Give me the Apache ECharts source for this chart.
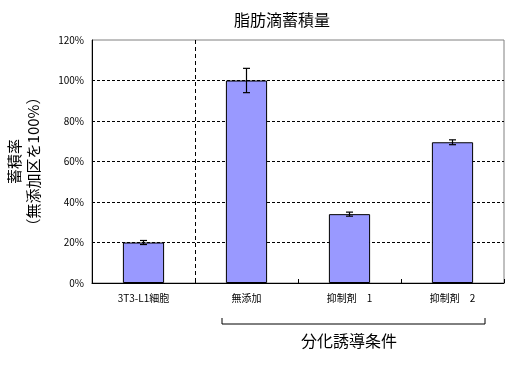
<!DOCTYPE html>
<html><head><meta charset="utf-8">
<script src="https://cdn.jsdelivr.net/npm/echarts@6/dist/echarts.min.js"></script>
<style>html,body{margin:0;padding:0;background:#fff}#c{width:518px;height:365px}</style>
</head><body><div id="c"></div>
<script>
const categories = ['3T3-L1細胞', '無添加', '抑制剤　1', '抑制剤　2'];
const values = [20, 100, 34, 69.5];
const errors = [1, 6, 1, 1.2];
const yTicks = [0, 20, 40, 60, 80, 100, 120];
const titleText = '脂肪滴蓄積量';
const yName = '蓄積率\n（無添加区を100%）';
const groupLabel = '分化誘導条件';

const FONT = '"Noto Sans CJK JP", sans-serif';
const chart = echarts.init(document.getElementById('c'), null, {renderer: 'canvas'});
chart.setOption({
  animation: false,
  backgroundColor: '#fff',
  title: {text: titleText, left: 229, top: 7, textStyle: {fontFamily: FONT, fontSize: 16, fontWeight: 'normal', color: '#000'}},
  grid: {left: 92, right: 14, top: 40, bottom: 82, show: true, borderColor: '#808080', borderWidth: 1, outerBoundsMode: 'none', containLabel: false},
  xAxis: {
    type: 'category', data: categories,
    axisLine: {lineStyle: {color: '#000', width: 1}},
    axisTick: {show: true, inside: true, length: 4, lineStyle: {color: '#000'}},
    axisLabel: {fontFamily: FONT, fontSize: 10, color: '#000', margin: 10}
  },
  yAxis: {
    type: 'value', min: yTicks[0], max: yTicks[yTicks.length - 1], interval: 20,
    name: yName, nameLocation: 'middle', nameGap: 49, nameRotate: 90,
    nameTextStyle: {fontFamily: FONT, fontSize: 15, color: '#000', lineHeight: 19},
    axisLine: {show: true, lineStyle: {color: '#000'}},
    axisTick: {show: false},
    axisLabel: {fontFamily: FONT, fontSize: 10, color: '#000', formatter: v => v + '%', margin: 8},
    splitLine: {show: true, showMinLine: false, showMaxLine: false, lineStyle: {color: '#000', type: [3, 2], width: 1}}
  },
  series: [
    {type: 'bar', data: values, barWidth: '40%', itemStyle: {color: '#9999FF', borderColor: '#000', borderWidth: 1}},
    {
      type: 'custom', data: values.map((v, i) => [i, v, errors[i]]), z: 5,
      renderItem: function (params, api) {
        const x = api.value(0), v = api.value(1), e = api.value(2);
        const hi = api.coord([x, v + e]), lo = api.coord([x, v - e]);
        const w = 3.5;
        const st = {stroke: '#000', lineWidth: 1.2};
        return {type: 'group', children: [
          {type: 'line', shape: {x1: hi[0], y1: hi[1], x2: lo[0], y2: lo[1]}, style: st},
          {type: 'line', shape: {x1: hi[0] - w, y1: hi[1], x2: hi[0] + w, y2: hi[1]}, style: st},
          {type: 'line', shape: {x1: lo[0] - w, y1: lo[1], x2: lo[0] + w, y2: lo[1]}, style: st}
        ]};
      }
    },
    {
      type: 'custom', data: [[0]], z: 4,
      renderItem: function (params, api) {
        const band = api.size([1, 0])[0];
        const top = api.coord([0, yTicks[yTicks.length - 1]]);
        const bot = api.coord([0, yTicks[0]]);
        const x = Math.round(top[0] + band / 2) + 0.5;
        return {type: 'line', shape: {x1: x, y1: top[1], x2: x, y2: bot[1]}, style: {stroke: '#000', lineWidth: 1, lineDash: [4, 3]}};
      }
    }
  ],
  graphic: [
    {type: 'polyline', shape: {points: [[222, 318], [222, 324], [485, 324], [485, 318]]}, style: {stroke: '#000', lineWidth: 1, fill: null}},
    {type: 'text', left: 301, top: 333, style: {text: groupLabel, font: '16px ' + FONT, fill: '#000'}}
  ]
});
</script></body></html>
